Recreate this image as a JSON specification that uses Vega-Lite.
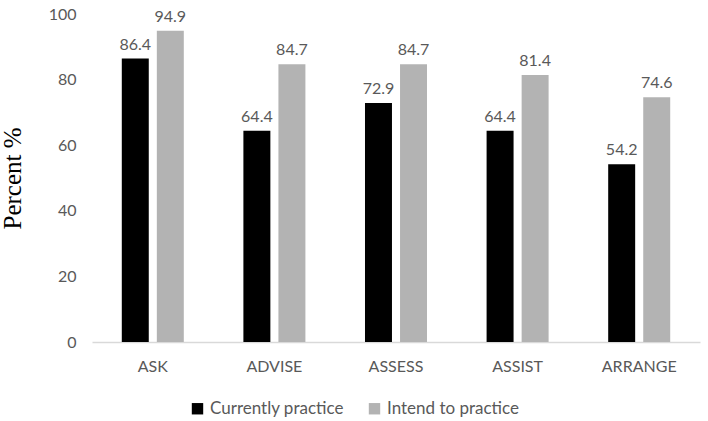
{
  "$schema": "https://vega.github.io/schema/vega-lite/v6.json",
  "width": 608,
  "height": 328,
  "autosize": {"type": "none"},
  "padding": {"left": 92, "top": 14, "right": 8, "bottom": 79},
  "background": "white",
  "config": {"view": {"stroke": null}, "font": "Lato"},
  "data": {
    "values": [
      {"cat": "ASK", "series": "Currently practice", "value": 86.4},
      {"cat": "ASK", "series": "Intend to practice", "value": 94.9},
      {"cat": "ADVISE", "series": "Currently practice", "value": 64.4},
      {"cat": "ADVISE", "series": "Intend to practice", "value": 84.7},
      {"cat": "ASSESS", "series": "Currently practice", "value": 72.9},
      {"cat": "ASSESS", "series": "Intend to practice", "value": 84.7},
      {"cat": "ASSIST", "series": "Currently practice", "value": 64.4},
      {"cat": "ASSIST", "series": "Intend to practice", "value": 81.4},
      {"cat": "ARRANGE", "series": "Currently practice", "value": 54.2},
      {"cat": "ARRANGE", "series": "Intend to practice", "value": 74.6}
    ]
  },
  "encoding": {
    "x": {
      "field": "cat", "type": "nominal", "sort": null,
      "scale": {"paddingInner": 0.49, "paddingOuter": 0.245},
      "axis": {"title": null, "labelAngle": 0, "labelFontSize": 16, "labelColor": "#595959", "labelPadding": 16, "ticks": false, "domainColor": "#d9d9d9", "domainWidth": 1.5}
    },
    "xOffset": {"field": "series", "type": "nominal", "scale": {"paddingInner": 0.23}},
    "y": {
      "field": "value", "type": "quantitative",
      "scale": {"domain": [0, 100]},
      "axis": {"title": "Percent %", "titleFont": "Liberation Serif", "titleFontSize": 25, "titleFontWeight": "normal", "titleColor": "#000000", "titlePadding": 23, "values": [0, 20, 40, 60, 80, 100], "labelFontSize": 16, "labelColor": "#595959", "labelPadding": 16, "ticks": false, "domain": false, "grid": false}
    }
  },
  "layer": [
    {
      "mark": {"type": "bar"},
      "encoding": {
        "color": {
          "field": "series", "type": "nominal",
          "scale": {"range": ["#000000", "#b3b3b3"]},
          "legend": {"title": null, "orient": "none", "direction": "horizontal", "legendX": 97, "legendY": 386, "symbolType": "square", "symbolSize": 130, "symbolStrokeWidth": 0, "labelFontSize": 17, "labelColor": "#595959", "columnPadding": 22, "labelOffset": 4}
        }
      }
    },
    {
      "mark": {"type": "text", "dy": -14, "fontSize": 16, "color": "#595959"},
      "encoding": {
        "text": {"field": "value", "type": "quantitative", "format": ".1f"}
      }
    }
  ]
}
